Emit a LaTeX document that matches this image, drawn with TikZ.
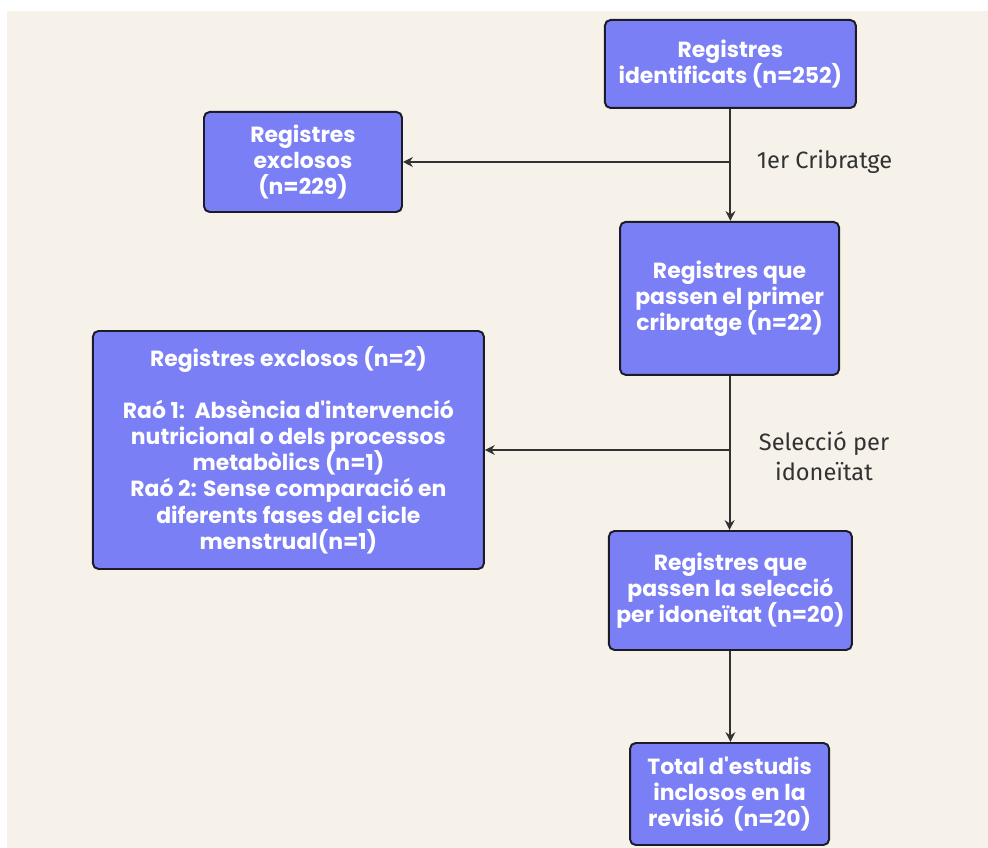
\documentclass[tikz,border=0pt]{standalone}
\usepackage{fontspec}
\setmainfont{Poppins}[Ligatures=TeXOff]
\newfontfamily\etiqfont{Fira Sans}
\usetikzlibrary{arrows.meta}
\definecolor{fons}{RGB}{246,242,234}
\definecolor{caixa}{RGB}{123,127,245}
\definecolor{vora}{RGB}{28,28,40}
\definecolor{linia}{RGB}{50,50,50}
\tikzset{
  caixa/.style={draw=vora, line width=1.4pt, fill=caixa, rounded corners=4pt,
    text=white, align=center, inner sep=0pt,
    font=\bfseries\fontsize{15.6}{18.6}\selectfont},
  fletxa/.style={draw=linia, line width=1.4pt, -{Stealth[length=7pt,width=7pt]}},
  etiq/.style={text=linia, align=center, font=\etiqfont\fontsize{16.8}{21.3}\selectfont}
}
\begin{document}
\begin{tikzpicture}
\useasboundingbox (0,0) rectangle (24.7,21.2);
\fill[fons] (0.175,0) rectangle (24.7,20.925);
\node[caixa, minimum width=6.275cm, minimum height=2.2cm] (reg) at (18.26,19.6) {Registres\\identificats (n=252)};
\node[caixa, minimum width=4.95cm, minimum height=2.5cm] (exc1) at (7.575,17.15) {Registres\\exclosos\\(n=229)};
\node[caixa, minimum width=5.475cm, minimum height=3.825cm] (pas1) at (18.24,13.74) {Registres que\\passen el primer\\cribratge (n=22)};
\node[caixa, minimum width=9.775cm, minimum height=5.95cm] (exc2) at (7.21,9.95) {Registres exclosos (n=2)\\[18.6pt]Raó 1:\ \ Absència d'intervenció\\nutricional o dels processos\\metabòlics (n=1)\\Raó 2: Sense comparació en\\diferents fases del cicle\\menstrual(n=1)};
\node[caixa, minimum width=6.075cm, minimum height=2.975cm] (pas2) at (18.26,6.4375) {Registres que\\passen la selecció\\per idoneïtat (n=20)};
\node[caixa, minimum width=4.975cm, minimum height=2.55cm] (tot) at (18.24,1.35) {Total d'estudis\\inclosos en la\\revisió\ \ (n=20)};
\coordinate (cr1) at (reg.south |- exc1.east);
\coordinate (cr2) at (pas1.south |- exc2.east);
\draw[fletxa] (reg.south) -- (reg.south |- pas1.north);
\draw[fletxa] (cr1) -- (exc1.east);
\draw[fletxa] (pas1.south) -- (pas1.south |- pas2.north);
\draw[fletxa] (cr2) -- (exc2.east);
\draw[fletxa] (pas2.south) -- (pas2.south |- tot.north);
\node[etiq, anchor=west] (lab1) at (18.8,17.15) {1er Cribratge};
\node[etiq] (lab2) at (20.6,9.8) {Selecció per\\idoneïtat};
\end{tikzpicture}
\end{document}
